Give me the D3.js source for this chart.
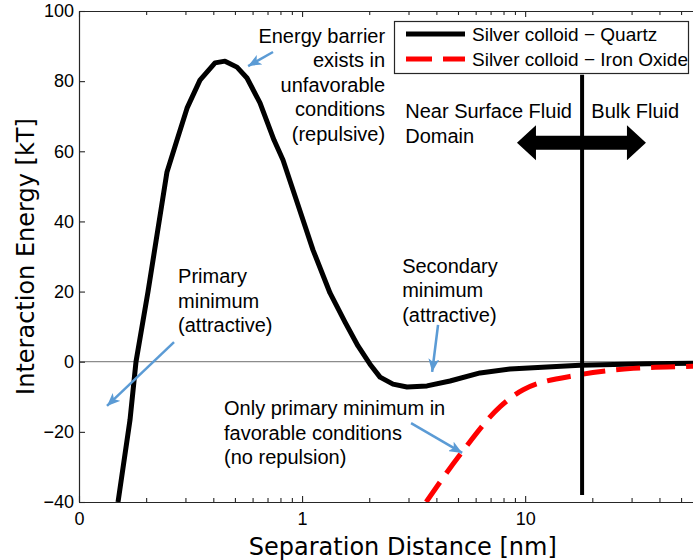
<!DOCTYPE html>
<html>
<head>
<meta charset="utf-8">
<script src="https://cdn.jsdelivr.net/npm/d3@7"></script>
<style>
  body { margin: 0; background: #fff; }
  svg { display: block; }
</style>
</head>
<body>
<svg id="chart" width="693" height="560"></svg>
<script>
// DLVO interaction energy profiles (kT) against separation distance (nm)
const quartzDist = [0.1496, 0.1693, 0.1801, 0.2038, 0.248, 0.275, 0.305, 0.3486, 0.4072, 0.4513,
  0.5108, 0.5663, 0.6476, 0.7486, 0.8213, 0.959, 1.119, 1.334, 1.558, 1.781, 2.016, 2.236, 2.556,
  2.953, 3.631, 4.605, 6.278, 8.555, 12.53, 17.62, 35.2, 56, 80];
const quartzEnergy = [-40, -16.6, 0, 19.9, 54.1, 63.2, 72.3, 80.3, 85.2, 85.7,
  84.0, 80.9, 73.8, 63.2, 57.5, 44.7, 31.9, 19.6, 11.3, 4.5, -0.7, -4.4, -6.4,
  -7.2, -6.9, -5.5, -3.2, -2.1, -1.5, -1.0, -0.6, -0.45, -0.35];

const oxideDist = [3.6, 5.22, 7.73, 9.8, 17.6, 30.5, 56, 80];
const oxideEnergy = [-40, -25.7, -12.8, -8.0, -3.7, -1.9, -1.3, -1.0];

const seriesNames = ["Silver colloid \u2212 Quartz", "Silver colloid \u2212 Iron Oxide"];

const xTickValues = [0.1, 1, 10];
const xTickLabels = ["0", "1", "10"];
const xMinorTicks = [0.2, 0.3, 0.4, 0.5, 0.6, 0.7, 0.8, 0.9, 2, 3, 4, 5, 6, 7, 8, 9, 20, 30, 40, 50, 60, 70];
const yTickValues = [-40, -20, 0, 20, 40, 60, 80, 100];

// Boundary between near-surface and bulk fluid domains (nm)
const domainBoundary = 18;

const svg = d3.select("#chart");
const axisColor = "#262626";
const labelFont = "'Liberation Sans', Arial, sans-serif";
const titleFont = "'DejaVu Sans', Verdana, sans-serif";

const x = d3.scaleLog().domain([0.1, 80]).range([79, 726.6]);
const y = d3.scaleLinear().domain([-40, 100]).range([502, 11]);

svg.append("defs").append("clipPath").attr("id", "plotArea")
  .append("rect")
  .attr("x", x.range()[0]).attr("y", y.range()[1])
  .attr("width", x.range()[1] - x.range()[0])
  .attr("height", y.range()[0] - y.range()[1]);

// zero reference line
svg.append("line")
  .attr("x1", x.range()[0]).attr("x2", x.range()[1])
  .attr("y1", y(0)).attr("y2", y(0))
  .attr("stroke", "#8c8c8c").attr("stroke-width", 1.2);

const plot = svg.append("g").attr("clip-path", "url(#plotArea)");

const linearLine = d3.line()
  .x(d => x(d[0])).y(d => y(d[1]));
const smoothLine = d3.line()
  .x(d => x(d[0])).y(d => y(d[1]))
  .curve(d3.curveMonotoneX);

plot.append("path")
  .datum(quartzDist.map((d, i) => [d, quartzEnergy[i]]))
  .attr("d", linearLine)
  .attr("fill", "none").attr("stroke", "#000")
  .attr("stroke-width", 5).attr("stroke-linejoin", "round");

plot.append("path")
  .datum(oxideDist.map((d, i) => [d, oxideEnergy[i]]))
  .attr("d", smoothLine)
  .attr("fill", "none").attr("stroke", "#ff0000")
  .attr("stroke-width", 5).attr("stroke-dasharray", "24,11");

// vertical domain boundary
svg.append("line")
  .attr("x1", x(domainBoundary)).attr("x2", x(domainBoundary))
  .attr("y1", y(81.8)).attr("y2", y(-38))
  .attr("stroke", "#000").attr("stroke-width", 4);

// double-headed arrow across the boundary
(function () {
  const x0 = x(9.19), x1 = x(34.8), yc = y(62.4);
  const headLen = 19, headHalf = 17.5, shaftHalf = 7;
  const pts = [
    [x0, yc], [x0 + headLen, yc - headHalf], [x0 + headLen, yc - shaftHalf],
    [x1 - headLen, yc - shaftHalf], [x1 - headLen, yc - headHalf], [x1, yc],
    [x1 - headLen, yc + headHalf], [x1 - headLen, yc + shaftHalf],
    [x0 + headLen, yc + shaftHalf], [x0 + headLen, yc + headHalf]
  ];
  svg.append("polygon").attr("points", pts.map(p => p.join(",")).join(" ")).attr("fill", "#000");
})();

// axes
const gx = svg.append("g").attr("transform", `translate(0,${y.range()[0]})`)
  .call(d3.axisBottom(x).tickValues(xTickValues)
    .tickFormat((d, i) => xTickLabels[i]).tickSizeInner(-6).tickSizeOuter(0).tickPadding(10));
const gxMinor = svg.append("g").attr("transform", `translate(0,${y.range()[0]})`)
  .call(d3.axisBottom(x).tickValues(xMinorTicks).tickFormat("").tickSizeInner(-4).tickSizeOuter(0));
const gxTop = svg.append("g").attr("transform", `translate(0,${y.range()[1]})`)
  .call(d3.axisTop(x).tickValues(xTickValues).tickFormat("").tickSizeInner(-6).tickSizeOuter(0));
const gxTopMinor = svg.append("g").attr("transform", `translate(0,${y.range()[1]})`)
  .call(d3.axisTop(x).tickValues(xMinorTicks).tickFormat("").tickSizeInner(-4).tickSizeOuter(0));
const gy = svg.append("g").attr("transform", `translate(${x.range()[0]},0)`)
  .call(d3.axisLeft(y).tickValues(yTickValues).tickSizeInner(-6).tickSizeOuter(0).tickPadding(5)
    .tickFormat(d => d < 0 ? "\u2212" + Math.abs(d) : d));

[gx, gxMinor, gxTop, gxTopMinor, gy].forEach(g => {
  g.selectAll("path.domain").attr("stroke", axisColor).attr("stroke-width", 1.2);
  g.selectAll(".tick line").attr("stroke", axisColor).attr("stroke-width", 1.1);
  g.selectAll(".tick text").attr("fill", "#000").attr("font-family", labelFont).attr("font-size", 18);
});

// axis titles
svg.append("text")
  .attr("x", (x.range()[0] + x.range()[1]) / 2).attr("y", 555)
  .attr("text-anchor", "middle").attr("font-family", titleFont).attr("font-size", 24)
  .text("Separation Distance [nm]");
svg.append("text")
  .attr("transform", `translate(34,${(y.range()[0] + y.range()[1]) / 2}) rotate(-90)`)
  .attr("text-anchor", "middle").attr("font-family", titleFont).attr("font-size", 24)
  .text("Interaction Energy [kT]");

// annotations
function multiline(xv, yv, lines, anchor) {
  const t = svg.append("text")
    .attr("x", x(xv)).attr("y", y(yv))
    .attr("text-anchor", anchor)
    .attr("font-family", labelFont).attr("font-size", 20).attr("fill", "#000");
  lines.forEach((s, i) => t.append("tspan").attr("x", x(xv)).attr("dy", i === 0 ? 0 : 24.5).text(s));
}
multiline(2.357, 90.9, ["Energy barrier", "exists in", "unfavorable", "conditions", "(repulsive)"], "end");
multiline(2.90, 69.4, ["Near Surface Fluid", "Domain"], "start");
multiline(19.8, 69.4, ["Bulk Fluid"], "start");
multiline(0.278, 22.4, ["Primary", "minimum", "(attractive)"], "start");
multiline(2.81, 25.3, ["Secondary", "minimum", "(attractive)"], "start");
multiline(0.447, -15.3, ["Only primary minimum in", "favorable conditions", "(no repulsion)"], "start");

// pointer arrows
svg.select("defs").append("marker")
  .attr("id", "blueHead").attr("markerUnits", "userSpaceOnUse")
  .attr("viewBox", "0 0 12 10").attr("refX", 12).attr("refY", 5)
  .attr("markerWidth", 13).attr("markerHeight", 11).attr("orient", "auto")
  .append("path").attr("d", "M0,0 L12,5 L0,10 L3,5 Z").attr("fill", "#5b9bd5");

const pointers = [
  [[0.741, 88.3], [0.573, 84.3]],
  [[0.2667, 5.6], [0.1335, -12.6]],
  [[4.07, 10.5], [3.83, -2.9]],
  [[3.08, -17.5], [5.22, -26.0]]
];
pointers.forEach(([a, b]) => {
  svg.append("line")
    .attr("x1", x(a[0])).attr("y1", y(a[1]))
    .attr("x2", x(b[0])).attr("y2", y(b[1]))
    .attr("stroke", "#5b9bd5").attr("stroke-width", 2.5)
    .attr("marker-end", "url(#blueHead)");
});

// legend
const legend = svg.append("g");
legend.append("rect")
  .attr("x", 394.5).attr("y", 21.5).attr("width", 294).attr("height", 52)
  .attr("fill", "#fff").attr("stroke", axisColor).attr("stroke-width", 1.2);
const legendStyles = [
  { stroke: "#000", dash: null },
  { stroke: "#ff0000", dash: "26,11" }
];
seriesNames.forEach((name, i) => {
  const ly = 34 + i * 25;
  legend.append("line")
    .attr("x1", 406).attr("x2", 465).attr("y1", ly).attr("y2", ly)
    .attr("stroke", legendStyles[i].stroke).attr("stroke-width", 5)
    .attr("stroke-dasharray", legendStyles[i].dash);
  legend.append("text")
    .attr("x", 472).attr("y", ly + 7)
    .attr("font-family", labelFont).attr("font-size", 19)
    .text(name);
});
</script>
</body>
</html>
